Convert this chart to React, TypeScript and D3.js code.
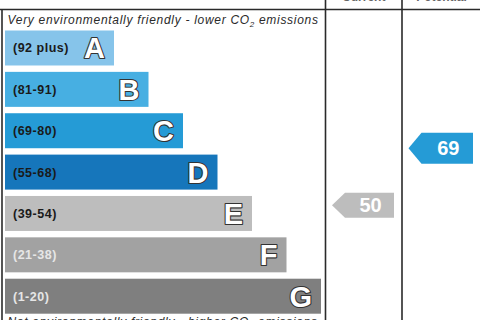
import React from "react";
import * as d3 from "d3";

const letters = ["A", "B", "C", "D", "E", "F", "G"];
const rangeLabels = ["(92 plus)", "(81-91)", "(69-80)", "(55-68)", "(39-54)", "(21-38)", "(1-20)"];
const bandMin = [92, 81, 69, 55, 39, 21, 1];
const bandMax = [100, 91, 80, 68, 54, 38, 20];
const bandColors = ["#86c4ea", "#47afe2", "#259bd6", "#1676bb", "#bdbdbd", "#a2a2a2", "#7f7f7f"];
const labelColors = ["#1a1a1a", "#1a1a1a", "#1a1a1a", "#1a1a1a", "#1a1a1a", "#e6e6e6", "#e6e6e6"];
const columnTitles = ["Current", "Potential"];
const currentValue = 50;
const potentialValue = 69;
const topText = "Very environmentally friendly - lower CO";
const bottomText = "Not environmentally friendly - higher CO";

const W = 480;
const H = 320;

function bandIndex(v: number) {
  return bandMin.findIndex((m) => v >= m);
}

export default function App() {
  const y = d3
    .scaleBand<string>()
    .domain(letters)
    .range([30.5, 313.7])
    .paddingInner(0.154)
    .paddingOuter(0);
  const xRight = d3.scaleLinear().domain([0, letters.length - 1]).range([114, 321]);
  const x0 = 5;
  const cols = [325.5, 402, 481];

  const arrowY = (v: number) => {
    const i = bandIndex(v);
    const t = (bandMax[i] - v) / (bandMax[i] - bandMin[i]);
    return (y(letters[i]) as number) + t * y.bandwidth();
  };

  const arrows = [
    { v: currentValue, col: 0, h: 25 },
    { v: potentialValue, col: 1, h: 31 },
  ];

  const stroke = "#2a2a2a";
  const font = "'Liberation Sans', Arial, sans-serif";

  return (
    <svg
      width={W}
      height={H}
      style={{ position: "fixed", left: 0, top: 0, background: "#fff" }}
      fontFamily={font}
    >
      <rect x={0} y={0} width={W} height={H} fill="#fff" />
      {columnTitles.map((t, i) => (
        <text
          key={t}
          x={(cols[i] + cols[i + 1]) / 2}
          y={1}
          textAnchor="middle"
          fontSize={12}
          fontWeight="bold"
          fill="#666"
        >
          {t}
        </text>
      ))}
      <line x1={0} x2={W} y1={9.5} y2={9.5} stroke={stroke} strokeWidth={1.6} />
      <line x1={2} x2={2} y1={9} y2={H} stroke={stroke} strokeWidth={1.6} />
      {cols.slice(0, 2).map((c) => (
        <line key={c} x1={c} x2={c} y1={0} y2={H} stroke={stroke} strokeWidth={1.6} />
      ))}
      <text x={7.5} y={23.5} fontSize={12} letterSpacing={0.7} fontStyle="italic" fill="#2a2a2a">
        {topText}
        <tspan fontSize={8} dy={3}>2</tspan>
        <tspan dy={-3}> emissions</tspan>
      </text>
      {letters.map((l, i) => {
        const top = y(l) as number;
        const bh = y.bandwidth();
        const r = xRight(i);
        return (
          <g key={l}>
            <rect x={x0} y={top} width={r - x0} height={bh} fill={bandColors[i]} />
            <text
              x={13}
              y={top + bh / 2 + 4.5}
              fontSize={12.5}
              letterSpacing={0.5}
              fontWeight="bold"
              fill={labelColors[i]}
            >
              {rangeLabels[i]}
            </text>
            <text
              x={r - 9}
              y={top + bh / 2 + 10.5}
              textAnchor="end"
              fontSize={29}
              fontWeight="bold"
              fill="#fff"
              stroke="#333"
              strokeWidth={2.2}
              strokeLinejoin="round"
              paintOrder="stroke"
            >
              {l}
            </text>
          </g>
        );
      })}
      {arrows.map((a) => {
        const i = bandIndex(a.v);
        const cy = arrowY(a.v);
        const right = cols[a.col + 1] - 8;
        const left = cols[a.col] + 6.5;
        const bodyLeft = left + 13;
        const h = a.h;
        const pts = [
          [left, cy],
          [bodyLeft, cy - h / 2],
          [right, cy - h / 2],
          [right, cy + h / 2],
          [bodyLeft, cy + h / 2],
        ];
        return (
          <g key={a.col}>
            <path d={d3.line()(pts as [number, number][]) + "Z"} fill={bandColors[i]} />
            <text
              x={(bodyLeft + right) / 2 + 1}
              y={cy + 7}
              textAnchor="middle"
              fontSize={20}
              fontWeight="bold"
              fill="#fff"
            >
              {a.v}
            </text>
          </g>
        );
      })}
      <text x={7.5} y={326} fontSize={12} letterSpacing={0.7} fontStyle="italic" fill="#2a2a2a">
        {bottomText}
        <tspan fontSize={8} dy={3}>2</tspan>
        <tspan dy={-3}> emissions</tspan>
      </text>
    </svg>
  );
}
